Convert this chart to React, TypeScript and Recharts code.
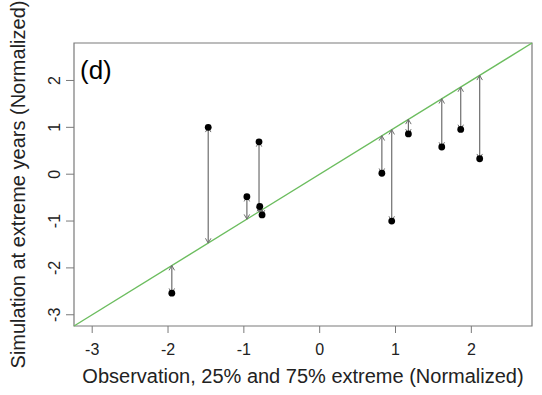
import React from 'react';
import {
  ComposedChart,
  Scatter,
  XAxis,
  YAxis,
  ReferenceLine,
  ReferenceArea,
  Label,
} from 'recharts';

// observed (normalized) vs simulated values at the extreme years
const observed = [-1.95, -1.47, -0.96, -0.8, -0.79, -0.76, 0.82, 0.95, 1.17, 1.61, 1.86, 2.11];
const simulated = [-2.54, 1.0, -0.48, 0.69, -0.69, -0.87, 0.02, -1.0, 0.86, 0.58, 0.955, 0.33];
const ticks = [-3, -2, -1, 0, 1, 2];
const axisMin = -3.24;
const axisMax = 2.8;

const points = observed.map((x, i) => ({ x, y: simulated[i] }));

const FONT = '"Liberation Sans", Arial, Helvetica, sans-serif';
const BOX = '#7a7a7a';
const ARROW = '#6e6e6e';

// double headed arrow like R's arrows(code = 3)
const Arrow = (props: any) => {
  const { x1, y1, x2, y2 } = props;
  const len = 5.5;
  const ang = Math.PI / 6;
  const head = (ax: number, ay: number, bx: number, by: number) => {
    const t = Math.atan2(by - ay, bx - ax);
    const p1x = bx - len * Math.cos(t - ang);
    const p1y = by - len * Math.sin(t - ang);
    const p2x = bx - len * Math.cos(t + ang);
    const p2y = by - len * Math.sin(t + ang);
    return `M${p1x},${p1y}L${bx},${by}L${p2x},${p2y}`;
  };
  return (
    <g>
      <line x1={x1} y1={y1} x2={x2} y2={y2} stroke={ARROW} strokeWidth={1.2} />
      <path d={head(x1, y1, x2, y2)} fill="none" stroke={ARROW} strokeWidth={1} />
      <path d={head(x2, y2, x1, y1)} fill="none" stroke={ARROW} strokeWidth={1} />
    </g>
  );
};

// y tick labels are drawn parallel to the axis
const YTick = (props: any) => {
  const { x, y, payload } = props;
  const cx = x;
  return (
    <text
      x={cx}
      y={y}
      transform={`rotate(-90, ${cx}, ${y})`}
      textAnchor="middle"
      fontSize={16}
      fontFamily={FONT}
      fill="#222"
    >
      {payload.value}
    </text>
  );
};

export default function App() {
  return (
    <div style={{ position: 'absolute', left: 0, top: 0, width: 542, height: 395, background: '#fff' }}>
      <ComposedChart
        width={542}
        height={395}
        margin={{ top: 43, right: 10, bottom: 29, left: 30 }}
      >
        <XAxis
          type="number"
          dataKey="x"
          domain={[axisMin, axisMax]}
          ticks={ticks}
          allowDataOverflow
          axisLine={false}
          tickLine={{ stroke: BOX }}
          tickSize={7}
          tickMargin={11}
          height={40}
          tick={{ fontSize: 16, fontFamily: FONT, fill: '#222' }}
        >
          <Label
            value="Observation, 25% and 75% extreme (Normalized)"
            position="bottom"
            offset={3}
            style={{ fontSize: 20, fontFamily: FONT, fill: '#222' }}
          />
        </XAxis>
        <YAxis
          type="number"
          dataKey="y"
          domain={[axisMin, axisMax]}
          ticks={ticks}
          allowDataOverflow
          axisLine={false}
          tickLine={{ stroke: BOX }}
          tickSize={8}
          tickMargin={6}
          width={44}
          tick={<YTick />}
        >
          <Label
            value="Simulation at extreme years (Normalized)"
            position="left"
            angle={-90}
            offset={12}
            style={{ fontSize: 20, fontFamily: FONT, fill: '#222', textAnchor: 'middle' }}
          />
        </YAxis>
        <ReferenceArea
          x1={axisMin}
          x2={axisMax}
          y1={axisMin}
          y2={axisMax}
          fill="none"
          stroke={BOX}
          strokeWidth={1.2}
          ifOverflow="visible"
        />
        <ReferenceLine
          segment={[
            { x: axisMin, y: axisMin },
            { x: axisMax, y: axisMax },
          ]}
          stroke="#6cbd5f"
          strokeWidth={1.4}
          ifOverflow="visible"
        />
        <Scatter data={points} fill="#000" isAnimationActive={false} shape={(p: any) => <circle cx={p.cx} cy={p.cy} r={3.4} fill="#000" />} />
        {points.map((p, i) => (
          <ReferenceLine
            key={i}
            segment={[
              { x: p.x, y: p.y },
              { x: p.x, y: p.x },
            ]}
            shape={<Arrow />}
            ifOverflow="visible"
          />
        ))}
      </ComposedChart>
      <div
        style={{
          position: 'absolute',
          left: 80,
          top: 55,
          fontSize: 26,
          lineHeight: '30px',
          fontFamily: FONT,
          color: '#000',
        }}
      >
        (d)
      </div>
    </div>
  );
}
